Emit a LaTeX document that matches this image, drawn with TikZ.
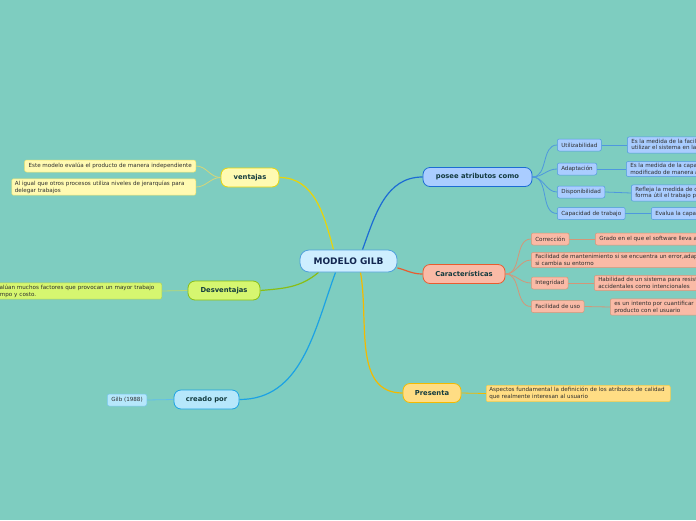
\documentclass[tikz,border=0pt]{standalone}
\usepackage{fontspec}
\setmainfont{DejaVu Sans}
\usepackage{xcolor}
\usepackage{tikz}
\usetikzlibrary{backgrounds}
\definecolor{bgteal}{RGB}{126, 205, 192}
\definecolor{textgray}{RGB}{45, 45, 45}
\definecolor{topictext}{RGB}{18, 58, 62}
\definecolor{centertext}{RGB}{18, 38, 80}
\definecolor{centerfill}{RGB}{206, 238, 255}
\definecolor{centerline}{RGB}{80, 160, 220}
\definecolor{ventfill}{RGB}{255, 250, 178}
\definecolor{ventline}{RGB}{232, 212, 10}
\definecolor{ventleaf}{RGB}{214, 214, 120}
\definecolor{desvfill}{RGB}{214, 246, 112}
\definecolor{desvline}{RGB}{138, 190, 20}
\definecolor{creafill}{RGB}{182, 231, 251}
\definecolor{crealine}{RGB}{28, 162, 228}
\definecolor{presfill}{RGB}{255, 221, 132}
\definecolor{presline}{RGB}{243, 186, 0}
\definecolor{carfill}{RGB}{250, 186, 166}
\definecolor{carline}{RGB}{232, 92, 48}
\definecolor{carleaf}{RGB}{212, 150, 120}
\definecolor{poseefill}{RGB}{170, 205, 255}
\definecolor{poseeline}{RGB}{28, 108, 212}
\definecolor{poseeleaf}{RGB}{78, 152, 222}

\begin{document}
\begin{tikzpicture}[x=1pt, y=1pt,
  every node/.style={font=\fontsize{5.6}{6.8}\selectfont, text=textgray},
  topic/.style={rounded corners=7pt, line width=0.8pt, minimum height=19pt, font=\fontsize{6.8}{8}\selectfont\bfseries, text=topictext},
  leaf/.style={rounded corners=2pt, line width=0.5pt, align=left, inner xsep=4pt, inner ysep=2pt, minimum height=12pt},
  link/.style={line width=1.2pt},
  twig/.style={line width=0.8pt}]

\clip (0,0) rectangle (696,-520);

% Central topic
\node[topic, draw=centerline, fill=centerfill, minimum width=97pt, minimum height=22pt, rounded corners=9pt, font=\fontsize{9}{11}\selectfont\bfseries, text=centertext] (gilb) at (348.5,-261) {MODELO GILB};

% Main topics
\node[topic, draw=ventline, fill=ventfill, minimum width=58pt] (ventajas) at (250,-177.5) {ventajas};
\node[topic, draw=desvline, fill=desvfill, minimum width=72pt] (desventajas) at (224,-290.5) {Desventajas};
\node[topic, draw=crealine, fill=creafill, minimum width=65pt] (creado) at (206.5,-399.5) {creado por};
\node[topic, draw=presline, fill=presfill, minimum width=58pt] (presenta) at (432,-393) {Presenta};
\node[topic, draw=carline, fill=carfill, minimum width=82pt] (caract) at (464,-274) {Características};
\node[topic, draw=poseeline, fill=poseefill, minimum width=109pt] (posee) at (477.5,-177) {posee atributos como};

% Leaves left
\node[leaf, draw=ventline!60, fill=ventfill, anchor=east] (evalua) at (196,-166) {Este modelo evalúa el producto de manera independiente};
\node[leaf, draw=ventline!60, fill=ventfill, anchor=east, inner xsep=3pt, text width=178pt] (jerarquias) at (196,-187) {Al igual que otros procesos utiliza niveles de jerarquías para\\delegar trabajos};
\node[leaf, draw=desvline!70, fill=desvfill, anchor=east, text width=165pt] (factores) at (162,-291) {Evalúan muchos factores que provocan un mayor trabajo\\tiempo y costo.};
\node[leaf, draw=crealine!60, fill=creafill, anchor=east] (anio) at (147,-400) {Gilb (1988)};
\node[leaf, draw=presline!70, fill=presfill, anchor=west, inner xsep=3pt, text width=178pt] (aspectos) at (486,-393.5) {Aspectos fundamental la definición de los atributos de calidad\\que realmente interesan al usuario};

% Attributes
\node[leaf, draw=poseeleaf, fill=poseefill, anchor=west] (utiliz) at (557,-145) {Utilizabilidad};
\node[leaf, draw=poseeleaf, fill=poseefill, anchor=west] (adapt) at (557,-169) {Adaptación};
\node[leaf, draw=poseeleaf, fill=poseefill, anchor=west] (dispon) at (557,-192) {Disponibilidad};
\node[leaf, draw=poseeleaf, fill=poseefill, anchor=west] (capac) at (557,-213.5) {Capacidad de trabajo};
\node[leaf, draw=poseeleaf, fill=poseefill, anchor=west] (utilizdef) at (627,-145) {Es la medida de la facilidad de\\utilizar el sistema en la práctica};
\node[leaf, draw=poseeleaf, fill=poseefill, anchor=west] (adaptdef) at (626,-169) {Es la medida de la capacidad de ser\\modificado de manera adecuada};
\node[leaf, draw=poseeleaf, fill=poseefill, anchor=west] (dispondef) at (631,-193) {Refleja la medida de disponibilidad de\\forma útil el trabajo para el usuario};
\node[leaf, draw=poseeleaf, fill=poseefill, anchor=west] (capacdef) at (651,-213.5) {Evalua la capacidad de trabajo};

% Characteristics
\node[leaf, draw=carleaf, fill=carfill, anchor=west] (correc) at (531,-239) {Corrección};
\node[leaf, draw=carleaf, fill=carfill, anchor=west] (manten) at (531,-260) {Facilidad de mantenimiento si se encuentra un error,adaptarlo\\si cambia su entorno};
\node[leaf, draw=carleaf, fill=carfill, anchor=west] (integ) at (531,-283) {Integridad};
\node[leaf, draw=carleaf, fill=carfill, anchor=west] (facil) at (531,-306.5) {Facilidad de uso};
\node[leaf, draw=carleaf, fill=carfill, anchor=west] (correcdef) at (595,-239) {Grado en el que el software lleva a cabo su función};
\node[leaf, draw=carleaf, fill=carfill, anchor=west] (integdef) at (594,-283) {Habilidad de un sistema para resistir ataques\\accidentales como intencionales};
\node[leaf, draw=carleaf, fill=carfill, anchor=west] (facildef) at (610,-307) {es un intento por cuantificar la relación del\\producto con el usuario};

\begin{scope}[on background layer]
\fill[bgteal] (0,0) rectangle (696,-520);

% Branches from the centre
\draw[link, ventline] ([xshift=-15pt]gilb.north) to[out=105, in=0] (ventajas.east);
\draw[link, poseeline] ([xshift=14pt]gilb.north) to[out=70, in=180] (posee.west);
\draw[link, carline] (gilb.-8) to[out=-15, in=180] (caract.west);
\draw[link, presline] ([xshift=12pt]gilb.south) to[out=-80, in=180] (presenta.west);
\draw[link, crealine] ([xshift=-13pt]gilb.south) to[out=-110, in=0] (creado.east);
\draw[link, desvline] ([xshift=-30pt]gilb.south) to[out=-140, in=5] (desventajas.east);

% Twigs
\draw[twig, ventleaf] (ventajas.west) to[out=180, in=0] (evalua.east);
\draw[twig, ventleaf] (ventajas.west) to[out=180, in=0] (jerarquias.east);
\draw[twig, desvline!60] (desventajas.west) -- (factores.east);
\draw[twig, crealine!70] (creado.west) -- (anio.east);
\draw[twig, presline] (presenta.east) -- (aspectos.west);
\foreach \attr in {utiliz,adapt,dispon,capac} {
    \draw[twig, poseeleaf] (posee.east) to[out=0, in=180] (\attr.west);
    \draw[twig, poseeleaf] (\attr.east) -- (\attr def.west);
}
\foreach \attr in {correc,manten,integ,facil}
    \draw[twig, carleaf] (caract.east) to[out=0, in=180] (\attr.west);
\foreach \attr in {correc,integ,facil}
    \draw[twig, carleaf] (\attr.east) -- (\attr def.west);
\end{scope}
\end{tikzpicture}
\end{document}
